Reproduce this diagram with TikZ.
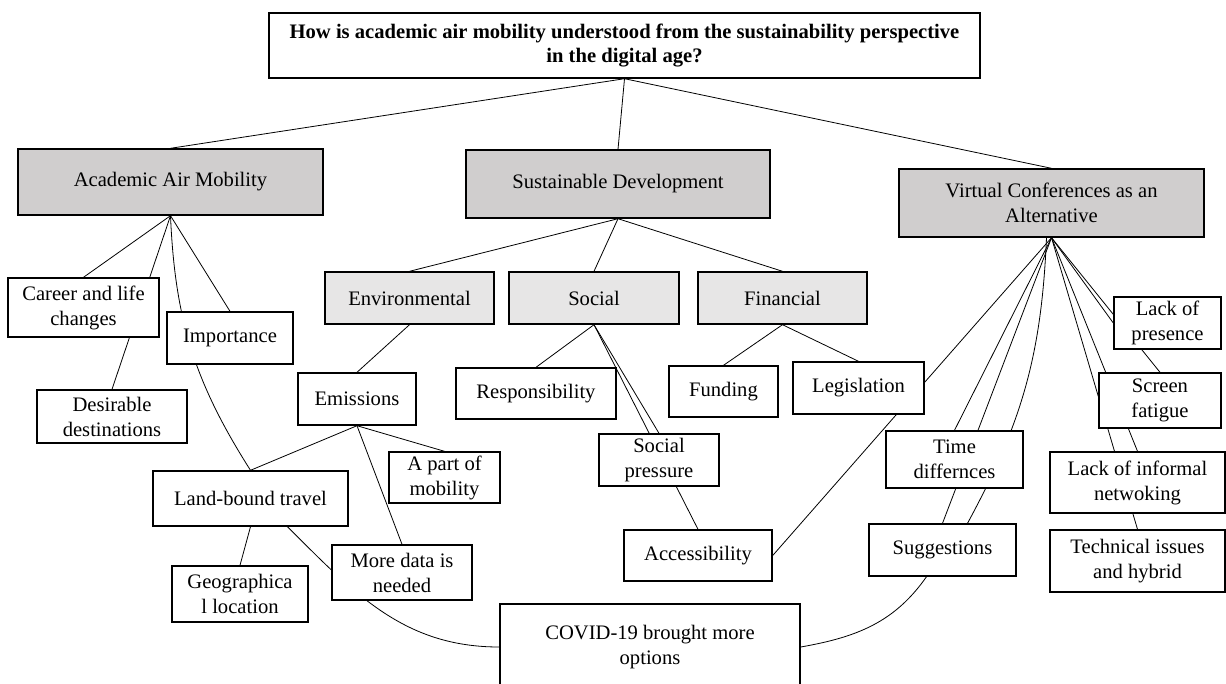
\documentclass[tikz,border=0pt]{standalone}
\usepackage{fontspec}
\setmainfont{Liberation Serif}
\usepackage{xcolor}
\usepackage{tikz}
\usetikzlibrary{backgrounds}
\definecolor{topgray}{HTML}{D0CECE}
\definecolor{subgray}{HTML}{E7E6E6}

\begin{document}
\begin{tikzpicture}[x=1pt, y=-1pt, main/.style = {draw, rectangle, fill=white, line width=1.4pt, inner sep=0pt, align=center, font=\fontsize{20.6}{25}\selectfont}, theme/.style = {main, fill=topgray}, pillar/.style = {main, fill=subgray}, link/.style = {line width=0.8pt}]
            \useasboundingbox (0,0) rectangle (1226,683);
            \node[main, minimum width=711, minimum height=65, font=\fontsize{20.6}{24}\selectfont\bfseries] (1) at (624.5,45.5) {How is academic air mobility understood from the sustainability perspective\\in the digital age?};
            \node[theme, minimum width=305, minimum height=66] (2) at (170.5,182) {Academic Air Mobility};
            \node[theme, minimum width=304, minimum height=68] (3) at (618,184) {Sustainable Development};
            \node[theme, minimum width=305, minimum height=68] (4) at (1051.5,203) {Virtual Conferences as an\\Alternative};
            \node[main, minimum width=151, minimum height=59] (5) at (83.5,307.5) {Career and life\\changes};
            \node[main, minimum width=126, minimum height=52] (6) at (230,338) {Importance};
            \node[main, minimum width=150, minimum height=53] (7) at (112,416.5) {Desirable\\destinations};
            \node[pillar, minimum width=169, minimum height=52] (8) at (409.5,298) {Environmental};
            \node[pillar, minimum width=170, minimum height=52] (9) at (594,298) {Social};
            \node[pillar, minimum width=169, minimum height=52] (10) at (782.5,298) {Financial};
            \node[main, minimum width=118, minimum height=52] (11) at (357,399) {Emissions};
            \node[main, minimum width=160, minimum height=51] (12) at (536,393.5) {Responsibility};
            \node[main, minimum width=109, minimum height=51] (13) at (723.5,391.5) {Funding};
            \node[main, minimum width=131, minimum height=52] (14) at (858.5,388) {Legislation};
            \node[main, minimum width=111, minimum height=51] (15) at (444.5,477.5) {A part of\\mobility};
            \node[main, minimum width=195, minimum height=55] (16) at (250.5,498.5) {Land-bound travel};
            \node[main, minimum width=140, minimum height=55] (17) at (402,572.5) {More data is\\needed};
            \node[main, minimum width=136, minimum height=56] (18) at (240,594) {Geographica\\l location};
            \node[main, minimum width=120, minimum height=52] (19) at (659,460) {Social\\pressure};
            \node[main, minimum width=148, minimum height=51] (20) at (698,555.5) {Accessibility};
            \node[main, minimum width=137, minimum height=57] (21) at (954.5,459.5) {Time\\differnces};
            \node[main, minimum width=147, minimum height=52] (22) at (942.5,550) {Suggestions};
            \node[main, minimum width=300, minimum height=86] (23) at (650,647) {COVID-19 brought more\\options};
            \node[main, minimum width=107, minimum height=52] (24) at (1167.5,323) {Lack of\\presence};
            \node[main, minimum width=122, minimum height=55] (25) at (1160,400.5) {Screen\\fatigue};
            \node[main, minimum width=175, minimum height=61] (26) at (1137.5,482.5) {Lack of informal\\netwoking};
            \node[main, minimum width=175, minimum height=62] (27) at (1137.5,561) {Technical issues\\and hybrid};
            \begin{scope}[on background layer]
            \draw[link] (1.south) -- (2.north);
            \draw[link] (1.south) -- (3.north);
            \draw[link] (1.south) -- (4.north);
            \draw[link] (2.south) -- (5.north);
            \draw[link] (2.south) -- (7.north);
            \draw[link] (2.south) -- (6.north);
            \draw[link] (2.south) to[bend right=15] (16.north);
            \draw[link] (3.south) -- (8.north);
            \draw[link] (3.south) -- (9.north);
            \draw[link] (3.south) -- (10.north);
            \draw[link] (8.south) -- (11.north);
            \draw[link] (11.south) -- (16.north);
            \draw[link] (11.south) -- (15.north);
            \draw[link] (11.south) -- (17.north);
            \draw[link] (16.south) -- (18.north);
            \draw[link] ([xshift=37]16.south) to[out=-45, in=180] (23.west);
            \draw[link] (9.south) -- (12.north);
            \draw[link] (9.south) -- (19.north);
            \draw[link] (9.south) -- (20.north);
            \draw[link] (10.south) -- (13.north);
            \draw[link] (10.south) -- (14.north);
            \draw[link] (4.south) -- (20.east);
            \draw[link] (4.south) -- (21.north);
            \draw[link] (4.south) -- (22.north);
            \draw[link] ([xshift=-5]4.south) to[bend left=13] ([xshift=25]22.north);
            \draw[link] (4.south) -- (24.west);
            \draw[link] (4.south) -- (25.north);
            \draw[link] (4.south) -- (26.north);
            \draw[link] (4.south) -- (27.north);
            \draw[link] ([xshift=-16]22.south) to[out=-125, in=10] (23.east);
            \end{scope}
        \end{tikzpicture}
\end{document}
